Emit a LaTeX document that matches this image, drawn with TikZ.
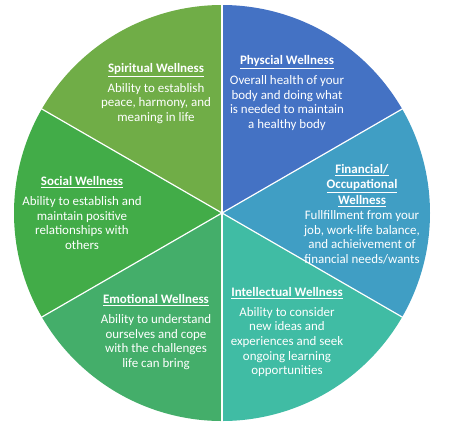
\documentclass[tikz,border=0pt]{standalone}
\usepackage{fontspec}
\setmainfont{Carlito}
\definecolor{physblue}{RGB}{68,114,196}
\definecolor{finblue}{RGB}{64,158,196}
\definecolor{inteal}{RGB}{64,188,164}
\definecolor{emgreen}{RGB}{68,174,106}
\definecolor{sogreen}{RGB}{66,172,72}
\definecolor{spgreen}{RGB}{112,173,71}
\newcommand{\hd}[1]{\underline{\textbf{#1}}}
\begin{document}
\begin{tikzpicture}[x=1bp,y=1bp,
  lbl/.style={align=center, text=white, inner sep=0pt, font=\fontsize{13}{14.7}\selectfont}]
\useasboundingbox (-222,-219) rectangle (227,213);

% sectors
\fill[physblue] (0,0) -- (90:208) arc[start angle=90, end angle=30, radius=208] -- cycle;
\fill[finblue] (0,0) -- (30:208) arc[start angle=30, end angle=-30, radius=208] -- cycle;
\fill[inteal] (0,0) -- (-30:208) arc[start angle=-30, end angle=-90, radius=208] -- cycle;
\fill[emgreen] (0,0) -- (-90:208) arc[start angle=-90, end angle=-150, radius=208] -- cycle;
\fill[sogreen] (0,0) -- (-150:208) arc[start angle=-150, end angle=-210, radius=208] -- cycle;
\fill[spgreen] (0,0) -- (150:208) arc[start angle=150, end angle=90, radius=208] -- cycle;
\foreach \a in {30,90,150,210,270,330}
  \draw[white, line width=1.2bp] (0,0) -- (\a:208.5);

\node[lbl] (p) at (65,120)
{\hd{Physcial Wellness}\\[5.3pt]Overall health of your\\body and doing what\\is needed to maintain\\a healthy body};

\node[lbl] (sp) at (-66,119.5)
{\hd{Spiritual Wellness}\\[5.3pt]Ability to establish\\peace, harmony, and\\meaning in life};

\node[lbl] (f) at (140,-1)
{\hd{Financial/}\\[1.3pt]\hd{Occupational}\\[1.3pt]\hd{Wellness}\\Fullfillment from your\\job, work-life balance,\\and achieivement of\\financial needs/wants};

\node[lbl] (so) at (-140,0)
{\hd{Social Wellness}\\[5.3pt]Ability to establish and\\maintain positive\\relationships with\\others};

\node[lbl] (e) at (-66,-119)
{\hd{Emotional Wellness}\\[5.3pt]Ability to understand\\ourselves and cope\\with the challenges\\life can bring};

\node[lbl] (i) at (65,-119)
{\hd{Intellectual Wellness}\\[5.3pt]Ability to consider\\new ideas and\\experiences and seek\\ongoing learning\\opportunities};
\end{tikzpicture}
\end{document}
